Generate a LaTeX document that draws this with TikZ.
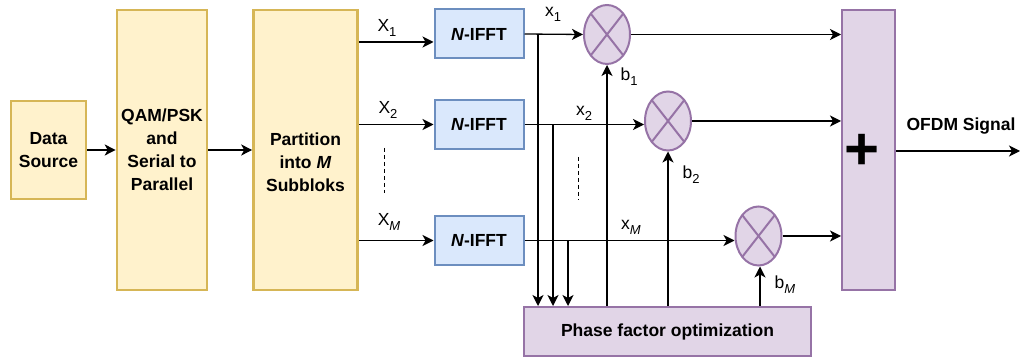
\documentclass[tikz,border=0pt]{standalone}
\usepackage{fontspec}
\setmainfont{Liberation Sans}
\usetikzlibrary{shapes.geometric,arrows.meta,calc}
\definecolor{yfill}{HTML}{FFF2CC}
\definecolor{ydraw}{HTML}{D6B656}
\definecolor{bfill}{HTML}{DAE8FC}
\definecolor{bdraw}{HTML}{6C8EBF}
\definecolor{pfill}{HTML}{E1D5E7}
\definecolor{pdraw}{HTML}{9673A6}
\newcommand\subs[1]{\raisebox{-5pt}{\fontsize{13}{13}\selectfont #1}}
\begin{document}
\begin{tikzpicture}[x=1pt,y=-1pt,
  font=\fontsize{17.5}{23}\selectfont,
  btxt/.style={inner sep=0pt,align=center,font=\fontsize{17.5}{23}\selectfont\bfseries},
  ybox/.style={btxt,draw=ydraw,fill=yfill,line width=2.6pt},
  bbox/.style={btxt,draw=bdraw,fill=bfill,line width=2pt,minimum width=89pt,minimum height=49pt},
  pbox/.style={btxt,draw=pdraw,fill=pfill,line width=2pt},
  mult/.style={ellipse,draw=pdraw,fill=pfill,line width=2pt,inner sep=0pt,
    minimum width=46pt,minimum height=59pt,
    path picture={
      \draw[pdraw,line width=2pt] ($(path picture bounding box.center)+(-16.3,-20.9)$) -- ++(32.6,41.8);
      \draw[pdraw,line width=2pt] ($(path picture bounding box.center)+(-16.3,20.9)$) -- ++(32.6,-41.8);
    }},
  lbl/.style={inner sep=0pt},
  arr/.style={line width=1.3pt,-{Stealth[length=11pt,width=11pt,inset=3pt]}},
  dsh/.style={line width=1pt,dash pattern=on 4pt off 3pt}
]
\useasboundingbox (0,0) rectangle (1021,358);

% boxes
\node[ybox,minimum width=75pt,minimum height=98pt] (ds) at (48.5,150) {Data\\Source};
\node[ybox,minimum width=90pt,minimum height=280pt] (qam) at (162,150) {QAM/PSK\\and\\Serial to\\Parallel};
\node[ybox,minimum width=104pt,minimum height=280pt] (part) at (305.5,150) {};
\node[btxt] (parttxt) at (305.5,162) {Partition\\into \textit{M}\\Subbloks};

\node[bbox] (f1) at (479,34) {\textit{N}-IFFT};
\node[bbox] (f2) at (479,124.5) {\textit{N}-IFFT};
\node[bbox] (f3) at (479,240.5) {\textit{N}-IFFT};

\node[mult] (m1) at (607,34.5) {};
\node[mult] (m2) at (668,121) {};
\node[mult] (mM) at (758.5,236) {};

\node[pbox,minimum width=53pt,minimum height=280pt] (sum) at (868.5,150) {};
\node[inner sep=0pt,font=\fontsize{60}{60}\selectfont\bfseries] (plus) at (862.5,152) {+};

\node[pbox,minimum width=287pt,minimum height=49pt] (ph) at (667.5,331.5) {Phase factor optimization};

% coordinates
\coordinate (in1) at ([yshift=-8pt]f1.west);
\coordinate (t1) at ($(ph.north west)+(15,0)$);
\coordinate (t2) at ($(ph.north west)+(30,0)$);
\coordinate (t3) at ($(ph.north west)+(45,0)$);
\coordinate (out) at (1020,151);
\coordinate (d1a) at (384,148);
\coordinate (d1b) at (384,193);
\coordinate (d2a) at (578,157);
\coordinate (d2b) at (578,200);

% connectors
\draw[arr] (ds) -- (qam);
\draw[arr] (qam.east) -- (part.west);
\draw[arr] (part.east |- in1) -- (in1);
\draw[arr] (part.east |- f2.west) -- (f2.west);
\draw[arr] (part.east |- f3.west) -- (f3.west);

\draw[arr] (f1.east) -- (m1.west);
\draw[arr] (f2.east) -- (f2.east -| m2.west);
\draw[arr] (f3.east) -- (f3.east -| mM.west);

\draw[arr] (t1 |- f1.east) -- (t1);
\draw[arr] (t2 |- f2.east) -- (t2);
\draw[arr] (t3 |- f3.east) -- (t3);

\draw[arr] (m1.south |- ph.north) -- (m1.south);
\draw[arr] (m2.south |- ph.north) -- (m2.south);
\draw[arr] ([xshift=1.5pt]mM.south |- ph.north) -- ([xshift=1.5pt]mM.south);

\draw[arr] (m1.east) -- (m1.east -| sum.west);
\draw[arr] (m2.east) -- (m2.east -| sum.west);
\draw[arr] (mM.east) -- (mM.east -| sum.west);

\draw[arr] (sum.east |- out) -- (out);

\draw[dsh] (d1a) -- (d1b);
\draw[dsh] (d2a) -- (d2b);

% labels
\node[lbl] (lX1) at (387,28) {X\subs{1}};
\node[lbl] (lX2) at (388,110) {X\subs{2}};
\node[lbl] (lXM) at (389,222) {X\subs{\textit{M}}};
\node[lbl] (lx1) at (553,14) {x\subs{1}};
\node[lbl] (lx2) at (584,113) {x\subs{2}};
\node[lbl] (lxM) at (631,227) {x\subs{\textit{M}}};
\node[lbl] (lb1) at (629,77) {b\subs{1}};
\node[lbl] (lb2) at (691,175) {b\subs{2}};
\node[lbl] (lbM) at (785,285) {b\subs{\textit{M}}};
\node[lbl,font=\fontsize{17.5}{23}\selectfont\bfseries] (lofdm) at (961,126) {OFDM Signal};
\end{tikzpicture}
\end{document}
